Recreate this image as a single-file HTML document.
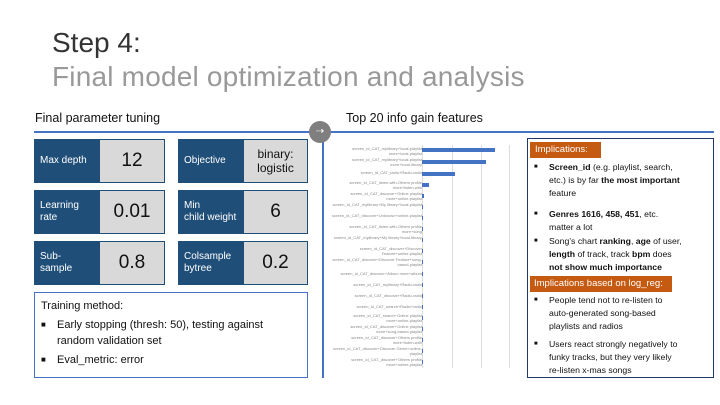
<!DOCTYPE html>
<html><head><style>
*{margin:0;padding:0;box-sizing:border-box}
body{width:720px;height:405px;background:#fff;position:relative;overflow:hidden;font-family:"Liberation Sans",sans-serif;color:#111}
.a{position:absolute}
.dk{position:absolute;background:#1f4e79;border:1px solid #1f4e79;color:#fff;font-size:10px;line-height:12px;display:flex;align-items:center;padding-left:5px}
.lt{position:absolute;background:#d9d9d9;border:1px solid #1f4e79;border-left:none;display:flex;align-items:center;justify-content:center;text-align:center}
.lab{position:absolute;right:298px;font-size:4px;line-height:5px;color:#888;text-align:right;width:90px}
.bar{position:absolute;left:422px;height:4px;background:#4472c4}
.bl{position:absolute;font-size:8.7px;line-height:13px;white-space:nowrap}
</style></head><body>
<div class="a" style="left:52px;top:27px;font-size:28px;color:#333">Step 4:</div>
<div class="a" style="left:52px;top:61px;font-size:28px;color:#999;letter-spacing:0.2px">Final model optimization and analysis</div>
<div class="a" style="left:35px;top:111px;font-size:12.5px">Final parameter tuning</div>
<div class="a" style="left:346px;top:111px;font-size:12.5px">Top 20 info gain features</div>
<div class="a" style="left:34px;top:131px;width:680px;height:1.5px;background:#4472c4"></div>
<div class="a" style="left:322px;top:132px;width:1.5px;height:246px;background:#4472c4"></div>
<div class="a" style="left:309px;top:121px;width:22px;height:22px;border-radius:50%;background:#7f7f7f;color:#fff;font-size:10px;text-align:center;line-height:22px">⇢</div>

<div class="dk" style="left:34px;top:139px;width:66px;height:44px">Max depth</div>
<div class="lt" style="left:100px;top:139px;width:65px;height:44px;font-size:19px">12</div>
<div class="dk" style="left:178px;top:139px;width:66px;height:44px">Objective</div>
<div class="lt" style="left:244px;top:139px;width:64px;height:44px;font-size:12px;line-height:14px">binary:<br>logistic</div>
<div class="dk" style="left:34px;top:190px;width:66px;height:44px">Learning<br>rate</div>
<div class="lt" style="left:100px;top:190px;width:65px;height:44px;font-size:19px">0.01</div>
<div class="dk" style="left:178px;top:190px;width:66px;height:44px">Min<br>child weight</div>
<div class="lt" style="left:244px;top:190px;width:64px;height:44px;font-size:19px">6</div>
<div class="dk" style="left:34px;top:241px;width:66px;height:44px">Sub-<br>sample</div>
<div class="lt" style="left:100px;top:241px;width:65px;height:44px;font-size:19px">0.8</div>
<div class="dk" style="left:178px;top:241px;width:66px;height:44px">Colsample<br>bytree</div>
<div class="lt" style="left:244px;top:241px;width:64px;height:44px;font-size:19px">0.2</div>

<div class="a" style="left:34px;top:292px;width:274px;height:86px;border:1px solid #4472c4;padding:5px 6px;font-size:11px;line-height:16px">
Training method:
<div style="position:relative;padding-left:16px;margin-top:3px"><span class="a" style="left:0;font-size:8px">■</span>Early stopping (thresh: 50), testing against random validation set</div>
<div style="position:relative;padding-left:16px;margin-top:3px"><span class="a" style="left:0;font-size:8px">■</span>Eval_metric: error</div>
</div>

<!-- chart -->
<div class="a" style="left:422px;top:145px;width:1px;height:223px;background:#ddd"></div>
<div class="a" style="left:452px;top:145px;width:1px;height:223px;background:#ddd"></div>
<div class="a" style="left:481px;top:145px;width:1px;height:223px;background:#ddd"></div>
<div class="a" style="left:509px;top:145px;width:1px;height:223px;background:#ddd"></div>
<div class="bar" style="top:148px;width:73px"></div>
<div class="bar" style="top:160px;width:64px"></div>
<div class="bar" style="top:172px;width:33px"></div>
<div class="bar" style="top:183px;width:7px"></div>
<div class="bar" style="top:194px;width:2px"></div>
<div class="bar" style="top:205px;width:1px"></div><div class="bar" style="top:216px;width:1px"></div><div class="bar" style="top:227px;width:1px"></div><div class="bar" style="top:238px;width:1px"></div><div class="bar" style="top:249px;width:1px"></div><div class="bar" style="top:260px;width:1px"></div><div class="bar" style="top:272px;width:1px"></div><div class="bar" style="top:283px;width:1px"></div><div class="bar" style="top:294px;width:1px"></div><div class="bar" style="top:305px;width:1px"></div><div class="bar" style="top:316px;width:1px"></div><div class="bar" style="top:327px;width:1px"></div><div class="bar" style="top:338px;width:1px"></div><div class="bar" style="top:349px;width:1px"></div><div class="bar" style="top:360px;width:1px"></div>
<div class="lab" style="top:146px">screen_id_CAT_mylibrary+local-playlist more+local-playlist</div>
<div class="lab" style="top:157px">screen_id_CAT_mylibrary+local-playlist more+local-library</div>
<div class="lab" style="top:170px">screen_id_CAT_radio+Radio-radio</div>
<div class="lab" style="top:180px">screen_id_CAT_listen-with-Others profile more+listen-with</div>
<div class="lab" style="top:191px">screen_id_CAT_discover+Online playlist more+online-playlist</div>
<div class="lab" style="top:202px">screen_id_CAT_mylibrary+My library+local-playlist</div>
<div class="lab" style="top:213px">screen_id_CAT_discover+Unknown+online-playlist</div>
<div class="lab" style="top:224px">screen_id_CAT_listen-with-Others profile more+song</div>
<div class="lab" style="top:235px">screen_id_CAT_mylibrary+My library+local-library</div>
<div class="lab" style="top:246px">screen_id_CAT_discover+Discover Feature+online-playlist</div>
<div class="lab" style="top:257px">screen_id_CAT_discover+Discover Feature+song-based-playlist</div>
<div class="lab" style="top:271px">screen_id_CAT_discover+Album more+album</div>
<div class="lab" style="top:282px">screen_id_CAT_mylibrary+Radio-radio</div>
<div class="lab" style="top:293px">screen_id_CAT_discover+Radio-radio</div>
<div class="lab" style="top:304px">screen_id_CAT_search+Radio+radio</div>
<div class="lab" style="top:313px">screen_id_CAT_search+Online playlist more+online-playlist</div>
<div class="lab" style="top:324px">screen_id_CAT_discover+Online playlist more+song-based-playlist</div>
<div class="lab" style="top:335px">screen_id_CAT_discover+Others profile more+listen-with</div>
<div class="lab" style="top:346px">screen_id_CAT_discover+Discover Genre+online-playlist</div>
<div class="lab" style="top:357px">screen_id_CAT_discover+Others profile more+online-playlist</div>

<!-- implications -->
<div class="a" style="left:527px;top:138px;width:187px;height:240px;border:1.5px solid #1f3864"></div>
<div class="a" style="left:530px;top:142px;width:71px;height:16px;background:#c55a11;color:#fff;font-size:9.5px;line-height:16px;padding-left:5px;white-space:nowrap">Implications:</div>
<div class="a" style="left:530px;top:276px;width:142px;height:16px;background:#c55a11;color:#fff;font-size:9.5px;line-height:16px;padding-left:4px;white-space:nowrap">Implications based on log_reg:</div>
<div class="bl" style="left:534px;top:161px"><span class="a" style="left:0;font-size:6px">■</span><div style="padding-left:15px"><b>Screen_id</b> (e.g. playlist, search,<br>etc.) is by far <b>the most important</b><br>feature</div></div>
<div class="bl" style="left:534px;top:208px"><span class="a" style="left:0;font-size:6px">■</span><div style="padding-left:15px"><b>Genres 1616, 458, 451</b>, etc.<br>matter a lot</div></div>
<div class="bl" style="left:534px;top:235px"><span class="a" style="left:0;font-size:6px">■</span><div style="padding-left:15px">Song’s chart <b>ranking</b>, <b>age</b> of user,<br><b>length</b> of track, track <b>bpm</b> does<br><b>not show much importance</b></div></div>
<div class="bl" style="left:534px;top:294px"><span class="a" style="left:0;font-size:6px">■</span><div style="padding-left:15px">People tend not to re-listen to<br>auto-generated song-based<br>playlists and radios</div></div>
<div class="bl" style="left:534px;top:338px"><span class="a" style="left:0;font-size:6px">■</span><div style="padding-left:15px">Users react strongly negatively to<br>funky tracks, but they very likely<br>re-listen x-mas songs</div></div>
</body></html>
